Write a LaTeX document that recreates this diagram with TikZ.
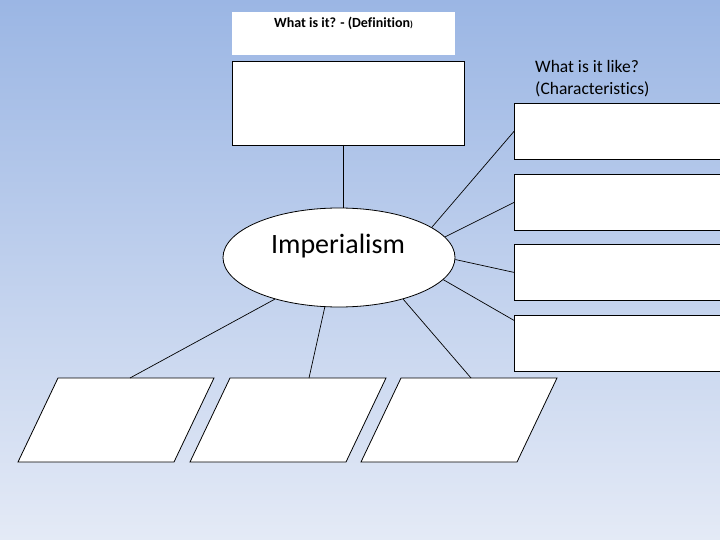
\documentclass[tikz,border=0pt]{standalone}
\usepackage{fontspec}
\setmainfont{Carlito}[Ligatures=NoCommon]
\usetikzlibrary{shapes.geometric,calc}
\definecolor{bgtop}{RGB}{155,182,228}
\definecolor{bgbot}{RGB}{228,234,246}
\begin{document}
\begin{tikzpicture}[x=1pt,y=-1pt,
  box/.style={draw=black,fill=white,line width=0.8pt,rectangle,inner sep=0pt},
  link/.style={draw=black,line width=0.7pt},
  para/.style={draw=black,fill=white,line width=0.8pt,line join=miter}]
\useasboundingbox (0,0) rectangle (720,540);
\clip (0,0) rectangle (720,540);
\shade[top color=bgtop,bottom color=bgbot] (0,0) rectangle (720,540);
% title box
\node[fill=white,inner sep=0pt,minimum width=223pt,minimum height=43pt,anchor=north west] (titlebox) at (232,12) {};
\node[anchor=base,font=\fontsize{14}{16}\selectfont\bfseries,inner sep=0pt] (titletext) at (343.5,28) {What is it? - (Definition{\fontsize{9}{10}\selectfont)}};
% definition box
\node[box,minimum width=232pt,minimum height=84pt,anchor=north west] (def) at (232,61) {};
% ellipse
\node[ellipse,draw=black,fill=white,line width=0.8pt,minimum width=232pt,minimum height=99pt,inner sep=0pt] (imp) at (339,257.5) {};
\node[anchor=base,font=\fontsize{28}{30}\selectfont,inner sep=0pt] (imptext) at (338,254) {Imperialism};
% characteristics text
\node[anchor=base west,font=\fontsize{17.5}{21}\selectfont,inner sep=0pt] (chartext1) at (535,73) {What is it like?};
\node[anchor=base west,font=\fontsize{17.5}{21}\selectfont,inner sep=0pt] (chartext2) at (535,94.5) {(Characteristics)};
% right boxes
\node[box,minimum width=210pt,minimum height=56pt,anchor=north west] (c1) at (514,103) {};
\node[box,minimum width=210pt,minimum height=56pt,anchor=north west] (c2) at (514,174) {};
\node[box,minimum width=210pt,minimum height=56pt,anchor=north west] (c3) at (514,244) {};
\node[box,minimum width=210pt,minimum height=56pt,anchor=north west] (c4) at (514,315) {};
% parallelograms
\draw[para] (18,462) -- (58,378) -- (214,378) -- (174,462) -- cycle;
\draw[para] (190,462) -- (230,378) -- (386,378) -- (346,462) -- cycle;
\draw[para] (361,462) -- (401,378) -- (557,378) -- (517,462) -- cycle;
\coordinate (p1) at (130,378);
\coordinate (p2) at (309,378);
\coordinate (p3) at (471,378);
\coordinate (defbot) at (343,145);
% connectors
\draw[link] (defbot) -- (defbot |- imp.north);
\draw[link] (imp.18) -- (c1.west);
\draw[link] (imp.11) -- (c2.west);
\draw[link] (imp.-1.5) -- (c3.west);
\draw[link] (imp.-12) -- ([yshift=23pt]c4.west);
\draw[link] (imp.213) -- (p1);
\draw[link] (imp.254) -- (p2);
\draw[link] (imp.-33) -- (p3);
\end{tikzpicture}
\end{document}
